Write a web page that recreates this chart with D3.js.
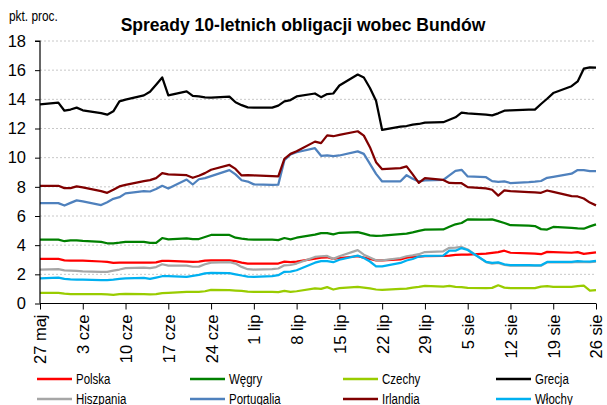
<!DOCTYPE html>
<html>
<head>
<meta charset="utf-8">
<script src="https://cdn.jsdelivr.net/npm/d3@7"></script>
<style>
  html, body { margin: 0; padding: 0; background: #fff; }
  svg { display: block; }
</style>
</head>
<body>
<svg id="chart" width="607" height="405"></svg>
<script>
// Business days, 27 May – 26 Aug 2011
const dates = [
  "2011-05-27",
  "2011-05-30","2011-05-31","2011-06-01","2011-06-02","2011-06-03",
  "2011-06-06","2011-06-07","2011-06-08","2011-06-09","2011-06-10",
  "2011-06-13","2011-06-14","2011-06-15","2011-06-16","2011-06-17",
  "2011-06-20","2011-06-21","2011-06-22","2011-06-23","2011-06-24",
  "2011-06-27","2011-06-28","2011-06-29","2011-06-30","2011-07-01",
  "2011-07-04","2011-07-05","2011-07-06","2011-07-07","2011-07-08",
  "2011-07-11","2011-07-12","2011-07-13","2011-07-14","2011-07-15",
  "2011-07-18","2011-07-19","2011-07-20","2011-07-21","2011-07-22",
  "2011-07-25","2011-07-26","2011-07-27","2011-07-28","2011-07-29",
  "2011-08-01","2011-08-02","2011-08-03","2011-08-04","2011-08-05",
  "2011-08-08","2011-08-09","2011-08-10","2011-08-11","2011-08-12",
  "2011-08-15","2011-08-16","2011-08-17","2011-08-18","2011-08-19",
  "2011-08-22","2011-08-23","2011-08-24","2011-08-25","2011-08-26"
];

// Spreads over 10Y Bunds, percentage points
const polska = [3.06,
  3.06,2.96,2.94,2.94,2.94, 2.88,2.85,2.79,2.8,2.8, 2.8,2.8,2.82,2.92,2.92,
  2.87,2.85,2.87,2.94,2.96, 2.96,2.9,2.8,2.74,2.74, 2.74,2.74,2.87,2.83,2.87,
  3.08,3.15,3.17,3.06,3.12, 3.24,3.15,3.05,2.96,2.96, 3.02,3.15,3.2,3.22,3.24,
  3.26,3.28,3.33,3.35,3.35, 3.42,3.47,3.52,3.62,3.48, 3.44,3.42,3.38,3.54,3.52,
  3.48,3.52,3.4,3.45,3.5];
const wegry = [4.38,
  4.38,4.27,4.33,4.33,4.29, 4.22,4.13,4.13,4.17,4.22, 4.22,4.15,4.15,4.49,4.4,
  4.47,4.42,4.42,4.56,4.7, 4.7,4.51,4.45,4.4,4.38, 4.38,4.35,4.49,4.4,4.51,
  4.72,4.83,4.83,4.74,4.85, 4.9,4.79,4.67,4.63,4.65, 4.76,4.79,4.88,4.98,5.07,
  5.08,5.26,5.43,5.52,5.77, 5.75,5.77,5.65,5.52,5.37, 5.34,5.31,5.1,5.07,5.25,
  5.18,5.15,5.13,5.29,5.43];
const czechy = [0.73,
  0.73,0.67,0.64,0.64,0.64, 0.64,0.62,0.59,0.64,0.66, 0.64,0.62,0.64,0.71,0.73,
  0.8,0.8,0.8,0.84,0.93, 0.91,0.89,0.87,0.82,0.8, 0.8,0.78,0.87,0.8,0.84,
  1.03,1.0,1.12,0.96,1.05, 1.14,1.09,1.03,0.96,0.93, 1.0,1.02,1.09,1.14,1.21,
  1.16,1.21,1.14,1.12,1.07, 1.05,1.07,1.25,1.09,1.05, 1.05,1.05,1.16,1.19,1.14,
  1.14,1.19,1.23,0.89,0.91];
const grecja = [13.65,
  13.77,13.22,13.3,13.43,13.25, 13.05,12.95,13.18,13.86,13.98, 14.27,14.52,15.0,15.5,14.27,
  14.55,14.23,14.2,14.14,14.11, 14.18,13.8,13.6,13.45,13.43, 13.43,13.57,13.86,13.95,14.2,
  14.4,14.15,14.36,14.4,14.95, 15.7,15.5,14.78,13.9,11.9, 12.13,12.17,12.27,12.31,12.4,
  12.43,12.6,12.77,13.09,13.04, 12.95,12.9,13.04,13.22,13.25, 13.3,13.3,13.68,14.04,14.43,
  14.9,15.23,16.1,16.19,16.17];
const hiszpania = [2.32,
  2.35,2.27,2.26,2.24,2.21, 2.17,2.17,2.26,2.33,2.42, 2.46,2.42,2.5,2.69,2.6,
  2.6,2.52,2.53,2.69,2.8, 2.84,2.74,2.51,2.35,2.33, 2.35,2.4,2.62,2.64,2.74,
  3.19,3.24,3.26,3.06,3.24, 3.66,3.35,3.15,2.96,2.96, 3.12,3.24,3.3,3.38,3.53,
  3.58,3.82,3.83,3.88,3.7, 2.84,2.74,2.78,2.65,2.6, 2.6,2.59,2.59,2.82,2.82,
  2.82,2.86,2.84,2.83,2.87];
const portugalia = [6.88,
  6.88,6.72,6.9,7.07,7.0, 6.75,6.95,7.18,7.29,7.55, 7.7,7.68,7.85,8.07,7.88,
  8.5,8.16,8.52,8.6,8.73, 9.15,8.85,8.45,8.36,8.17, 8.14,8.15,9.82,10.22,10.37,
  10.65,10.13,10.15,10.1,10.15, 10.43,10.26,9.58,8.89,8.37, 8.38,8.8,8.55,8.37,8.45,
  8.47,8.78,9.1,9.17,8.71, 8.66,8.39,8.34,8.37,8.26, 8.32,8.35,8.4,8.62,8.69,
  8.9,9.15,9.15,9.07,9.08];
const irlandia = [8.07,
  8.07,7.91,7.91,8.03,7.96, 7.71,7.59,7.8,8.03,8.14, 8.39,8.46,8.6,8.94,8.85,
  8.8,8.62,8.76,8.94,9.17, 9.5,9.23,8.78,8.8,8.78, 8.73,8.71,9.92,10.26,10.44,
  11.1,11.0,11.53,11.47,11.56, 11.81,11.51,10.72,9.69,9.21, 9.28,9.4,8.85,8.27,8.6,
  8.47,8.27,8.25,8.25,7.98, 7.9,7.8,7.4,7.75,7.7, 7.64,7.62,7.59,7.75,7.66,
  7.36,7.34,7.2,6.92,6.73];
const wlochy = [1.72,
  1.78,1.69,1.66,1.64,1.64, 1.6,1.6,1.64,1.69,1.73, 1.76,1.69,1.78,1.87,1.87,
  1.83,1.89,1.96,2.07,2.1, 2.08,2.0,1.92,1.85,1.82, 1.87,1.94,2.17,2.19,2.28,
  2.8,2.9,2.9,2.83,3.0, 3.28,3.12,2.88,2.55,2.55, 2.78,2.95,3.05,3.22,3.26,
  3.28,3.62,3.62,3.8,3.67, 2.86,2.78,2.82,2.69,2.63, 2.63,2.62,2.62,2.85,2.85,
  2.85,2.9,2.88,2.87,2.92];

const seriesNames = ["Polska", "Węgry", "Czechy", "Grecja", "Hiszpania", "Portugalia", "Irlandia", "Włochy"];
const seriesValues = [polska, wegry, czechy, grecja, hiszpania, portugalia, irlandia, wlochy];

const xTickLabels = ["27 maj", "3 cze", "10 cze", "17 cze", "24 cze", "1 lip", "8 lip",
                     "15 lip", "22 lip", "29 lip", "5 sie", "12 sie", "19 sie", "26 sie"];
const yTicks = [0, 2, 4, 6, 8, 10, 12, 14, 16, 18];

const titleText = "Spready 10-letnich obligacji wobec Bundów";
const unitText = "pkt. proc.";

// ---- styling ----
const colors = {
  "Polska": "#ff0000", "Węgry": "#008000", "Czechy": "#99cc00", "Grecja": "#000000",
  "Hiszpania": "#a6a6a6", "Portugalia": "#4f81bd", "Irlandia": "#800000", "Włochy": "#00b0f0"
};

const svg = d3.select("#chart");
const parse = d3.timeParse("%Y-%m-%d");
const xDates = dates.map(parse);

// pick a condensed face if present, otherwise squeeze the regular one
function narrowFace() {
  const probe = svg.append("text").attr("font-size", 20).text("mmmmmmmmmm");
  probe.attr("font-family", '"Liberation Sans Narrow", "Liberation Sans"');
  const w1 = probe.node().getComputedTextLength();
  probe.attr("font-family", '"Liberation Sans"');
  const w2 = probe.node().getComputedTextLength();
  probe.remove();
  return w1 < w2 * 0.92 ? { family: '"Liberation Sans Narrow"', sx: 1 }
                        : { family: '"Liberation Sans", Arial, sans-serif', sx: 0.82 };
}
const narrow = narrowFace();
const regular = '"Liberation Sans", Arial, sans-serif';

const plot = { left: 40, right: 596, top: 41, bottom: 303.5 };

const x = d3.scaleTime()
  .domain([parse("2011-05-27"), parse("2011-08-26")])
  .range([plot.left, plot.right]);
const y = d3.scaleLinear().domain([0, 18]).range([plot.bottom, plot.top]);

// gridlines
svg.append("g").selectAll("line")
  .data(yTicks.filter(v => v > 0))
  .join("line")
  .attr("x1", plot.left).attr("x2", plot.right)
  .attr("y1", d => y(d)).attr("y2", d => y(d))
  .attr("stroke", "#c8c8c8").attr("stroke-width", 1)
  .attr("stroke-dasharray", "2,2");

// series lines
const line = d3.line()
  .x((d, i) => x(xDates[i]))
  .y(d => y(d));

svg.append("g").selectAll("path")
  .data(seriesNames.map((n, k) => ({ name: n, values: seriesValues[k] })))
  .join("path")
  .attr("d", d => line(d.values))
  .attr("fill", "none")
  .attr("stroke", d => colors[d.name])
  .attr("stroke-width", 2.25)
  .attr("stroke-linejoin", "round");

// y axis
const yAxis = d3.axisLeft(y).tickValues(yTicks).tickSize(5).tickPadding(9).tickFormat(d3.format("d"));
const gy = svg.append("g").attr("transform", `translate(${plot.left},0)`).call(yAxis);
gy.select(".domain").attr("stroke", "#000").attr("stroke-width", 1.2).attr("d", `M-5,${plot.top}H0V${plot.bottom}`);
gy.selectAll(".tick line").attr("stroke", "#000");
gy.selectAll(".tick text").attr("font-family", regular).attr("font-size", 16.5).attr("fill", "#000");

// x axis
const tickDates = xTickLabels.map((_, i) => d3.timeDay.offset(parse("2011-05-27"), 7 * i));
const xAxis = d3.axisBottom(x).tickValues(tickDates).tickSize(6).tickFormat((d, i) => xTickLabels[i]);
const gx = svg.append("g").attr("transform", `translate(0,${plot.bottom})`).call(xAxis);
gx.select(".domain").attr("stroke", "#000").attr("stroke-width", 1.2).attr("d", `M${plot.left},0H${plot.right}`);
gx.selectAll(".tick line").attr("stroke", "#000");
gx.selectAll(".tick text")
  .attr("font-family", regular).attr("font-size", 16.5).attr("fill", "#000")
  .attr("text-anchor", "end")
  .attr("transform", "translate(0,11) rotate(-90)")
  .attr("x", 0).attr("y", 0).attr("dy", "0.36em");

// title and unit
svg.append("text")
  .attr("x", 303).attr("y", 31)
  .attr("text-anchor", "middle")
  .attr("font-family", regular).attr("font-weight", "bold").attr("font-size", 17.5)
  .text(titleText);

svg.append("text")
  .attr("transform", `translate(9,21) scale(${narrow.sx},1)`)
  .attr("font-family", narrow.family).attr("font-size", 14.5)
  .text(unitText);

// legend: two rows of four
const legend = svg.append("g");
const colX = [37, 190, 343, 496];
const rowY = [379, 399];
seriesNames.forEach((n, k) => {
  const cx = colX[k % 4], cy = rowY[Math.floor(k / 4)];
  const g = legend.append("g").attr("transform", `translate(${cx},${cy})`);
  g.append("line").attr("x1", 0).attr("x2", 35).attr("y1", 0).attr("y2", 0)
    .attr("stroke", colors[n]).attr("stroke-width", 2.5);
  g.append("text")
    .attr("transform", `translate(39,0) scale(${narrow.sx},1)`)
    .attr("dy", "0.35em")
    .attr("font-family", narrow.family).attr("font-size", 14)
    .text(n);
});
</script>
</body>
</html>
